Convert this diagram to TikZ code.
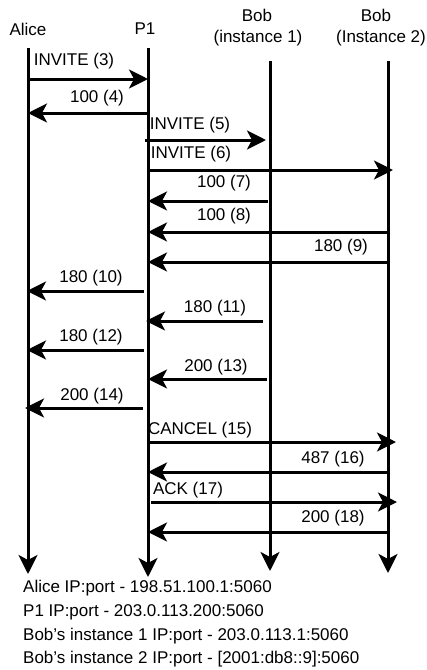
\documentclass[tikz,border=0pt]{standalone}
\usepackage{fontspec}
\setmainfont{Liberation Sans}
\usetikzlibrary{arrows.meta,calc}
\begin{document}
\begin{tikzpicture}[x=1pt,y=-1pt,
  lbl/.style={font=\fontsize{17}{19}\selectfont, inner sep=0pt},
  life/.style={line width=3pt, -{Stealth[length=19pt,width=19pt,inset=5pt]}},
  msg/.style={line width=3pt, -{Stealth[length=19pt,width=19pt,inset=5pt]}},
  foot/.style={font=\fontsize{17}{19}\selectfont, inner sep=0pt, anchor=west}]
\useasboundingbox[fill=white] (0,0) rectangle (427,670);
% headers
\node[lbl] (halice) at (28,29) {Alice};
\node[lbl] (hp1) at (145,29) {P1};
\node[lbl] (hbob1a) at (257,15) {Bob};
\node[lbl] (hbob1b) at (258,38) {(instance 1)};
\node[lbl] (hbob2a) at (376,15) {Bob};
\node[lbl] (hbob2b) at (381,38) {(Instance 2)};
% lifelines
\coordinate (at) at (28,48);  \coordinate (ab) at (28,574);
\coordinate (pt) at (148,48); \coordinate (pb) at (148,577);
\coordinate (b1t) at (270,61); \coordinate (b1b) at (270,571);
\coordinate (b2t) at (388,61); \coordinate (b2b) at (388,573);
\draw[life] (at) -- (ab);
\draw[life] (pt) -- (pb);
\draw[life] (b1t) -- (b1b);
\draw[life] (b2t) -- (b2b);
% messages
\draw[msg] (at |- 0,79) -- (pt |- 0,79);
\node[lbl] (l3) at (74,61) {INVITE (3)};
\draw[msg] (pt |- 0,113) -- (at |- 0,113);
\node[lbl] (l4) at (97,98) {100 (4)};
\draw[msg] (145,140) -- (266,140);
\node[lbl] (l5) at (190,125) {INVITE (5)};
\draw[msg] (pt |- 0,170) -- (393,170);
\node[lbl] (l6) at (191,154) {INVITE (6)};
\draw[msg] (268,201) -- (pt |- 0,201);
\node[lbl] (l7) at (224,183) {100 (7)};
\draw[msg] (b2t |- 0,232) -- (pt |- 0,232);
\node[lbl] (l8) at (224,216) {100 (8)};
\draw[msg] (b2t |- 0,262) -- (pt |- 0,262);
\node[lbl] (l9) at (341,247) {180 (9)};
\draw[msg] (144,291) -- (27,291);
\node[lbl] (l10) at (91,278) {180 (10)};
\draw[msg] (263,321) -- (146,321);
\node[lbl] (l11) at (215,308) {180 (11)};
\draw[msg] (144,350) -- (27,350);
\node[lbl] (l12) at (91,337) {180 (12)};
\draw[msg] (267,379) -- (pt |- 0,379);
\node[lbl] (l13) at (216,367) {200 (13)};
\draw[msg] (143,408) -- (25,408);
\node[lbl] (l14) at (92,396) {200 (14)};
\draw[msg] (pt |- 0,442) -- (396,442);
\node[lbl] (l15) at (200,430) {CANCEL (15)};
\draw[msg] (b2t |- 0,472) -- (pt |- 0,472);
\node[lbl] (l16) at (333,459) {487 (16)};
\draw[msg] (151,502) -- (397,502);
\node[lbl] (l17) at (188,490) {ACK (17)};
\draw[msg] (b2t |- 0,532) -- (pt |- 0,532);
\node[lbl] (l18) at (333,518) {200 (18)};
% footer
\node[foot] (f1) at (23,588) {Alice IP:port - 198.51.100.1:5060};
\node[foot] (f2) at (23,612) {P1 IP:port - 203.0.113.200:5060};
\node[foot] (f3) at (23,636) {Bob’s instance 1 IP:port - 203.0.113.1:5060};
\node[foot] (f4) at (23,659) {Bob’s instance 2 IP:port - [2001:db8::9]:5060};
\end{tikzpicture}
\end{document}
